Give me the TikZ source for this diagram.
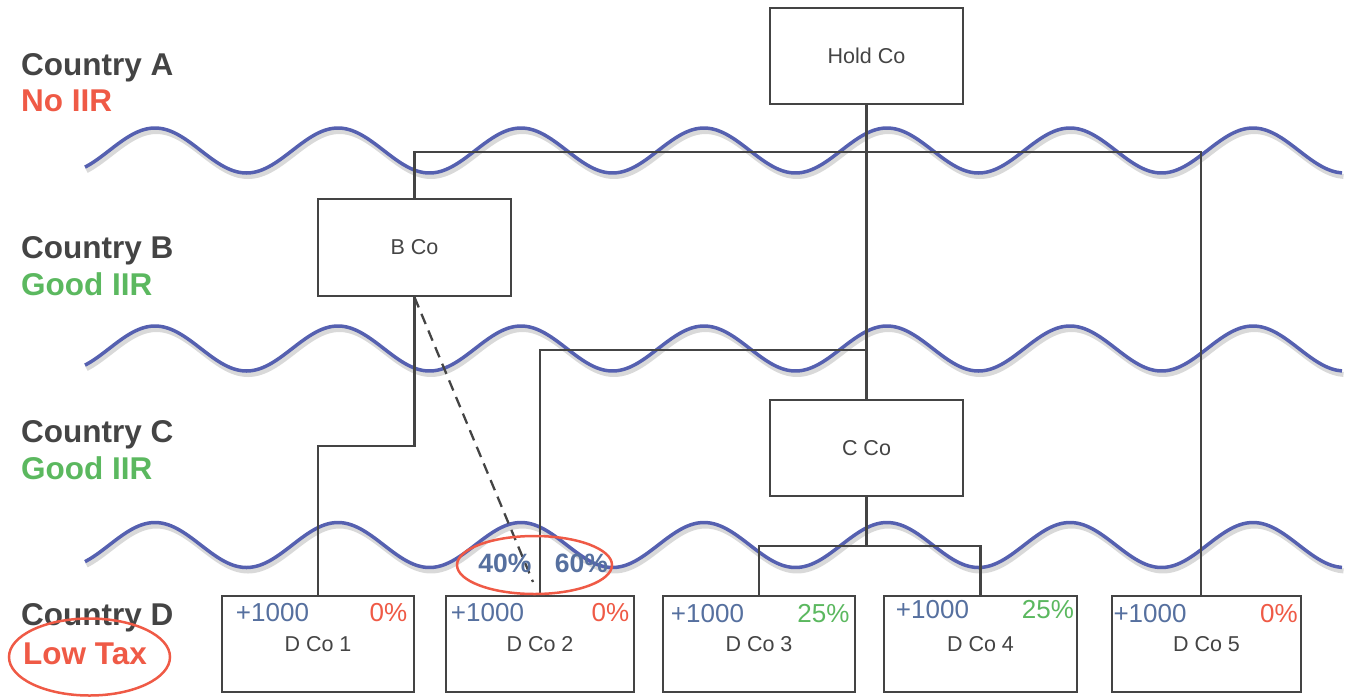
\documentclass[tikz,border=0pt]{standalone}
\usepackage{fontspec}
\setmainfont{Liberation Sans}
\usetikzlibrary{shapes.geometric}
\definecolor{txt}{HTML}{444444}
\definecolor{wavec}{HTML}{5560B0}
\definecolor{redc}{HTML}{EF5A46}
\definecolor{greenc}{HTML}{5BB85F}
\definecolor{bluec}{HTML}{56709F}
\begin{document}
\begin{tikzpicture}[x=1pt,y=-1pt,
  box/.style={draw=txt, line width=2.5pt, fill=white, inner sep=0pt, text=txt,
    font=\fontsize{21.5}{25}\selectfont},
  conn/.style={draw=txt, line width=2.3pt},
  wave/.style={draw=wavec, line width=3.5pt},
  waveshadow/.style={draw=black!15, line width=5pt},
  ctry/.style={anchor=base west, inner sep=0pt, text=txt, font=\fontsize{31.5}{36}\selectfont\bfseries},
  tag/.style={anchor=base west, inner sep=0pt, font=\fontsize{31.5}{36}\selectfont\bfseries},
  amt/.style={inner sep=0pt, text=bluec, font=\fontsize{26}{30}\selectfont},
  rate/.style={inner sep=0pt, font=\fontsize{26}{30}\selectfont},
  pct/.style={inner sep=0pt, text=bluec, font=\fontsize{26.5}{30}\selectfont\bfseries},
  ring/.style={ellipse, draw=redc, line width=2.5pt, inner sep=0pt}
]
\useasboundingbox (0,0) rectangle (1352,697);

% waves
\foreach \c in {150.5,348.5,545}{
  \draw[waveshadow] plot[domain=85:1342, samples=250, smooth] ({\x+1.5}, {\c+3.5-22.5*cos((\x-155)*1.96721)});
  \draw[wave] plot[domain=85:1342, samples=250, smooth] (\x, {\c-22.5*cos((\x-155)*1.96721)});
}

% country labels
\node[ctry] (ca) at (21,75) {Country A};
\node[tag, text=redc] (ta) at (21,111) {No IIR};
\node[ctry] (cb) at (21,258) {Country B};
\node[tag, text=greenc] (tb) at (21,295) {Good IIR};
\node[ctry] (cc) at (21,442) {Country C};
\node[tag, text=greenc] (tc) at (21,479) {Good IIR};
\node[ctry] (cd) at (21,625) {Country D};
\node[tag, text=redc] (td) at (23,664) {Low Tax};
\node[ring, minimum width=161pt, minimum height=77pt] (lowring) at (89.5,657) {};

% boxes
\node[box, minimum width=193pt, minimum height=96pt] (hold) at (866.5,56) {Hold Co};
\node[box, minimum width=193pt, minimum height=97pt] (bco) at (414.5,247.5) {B Co};
\node[box, minimum width=193pt, minimum height=96pt] (cco) at (866.5,448) {C Co};
\node[box, minimum width=192pt, minimum height=96pt] (d1) at (318,644) {\raisebox{-2pt}{D Co 1}};
\node[box, minimum width=188pt, minimum height=96pt] (d2) at (540,644) {\raisebox{-2pt}{D Co 2}};
\node[box, minimum width=192pt, minimum height=96pt] (d3) at (759,644) {\raisebox{-2pt}{D Co 3}};
\node[box, minimum width=193pt, minimum height=96pt] (d4) at (980.5,644) {\raisebox{-2pt}{D Co 4}};
\node[box, minimum width=189pt, minimum height=96pt] (d5) at (1206.5,644) {\raisebox{-2pt}{D Co 5}};

% junctions
\coordinate (ja) at (866.5,152);
\coordinate (jb) at (866.5,350);
\coordinate (jc) at (414.5,446);
\coordinate (jd) at (866.5,546);
\coordinate (d5top) at (1201,596);
\coordinate (dend) at (533,582);

% connectors
\draw[conn] (hold.south) -- (cco.north);
\draw[conn] (bco.north) |- (ja) -| (d5top);
\draw[conn] (jb) -| (d2.north);
\draw[conn] (bco.south) -- (jc) -| (d1.north);
\draw[conn] (cco.south) -- (jd);
\draw[conn] (d3.north) |- (jd) -| (d4.north);
\draw[conn, dashed, dash pattern=on 11pt off 7pt] (bco.south) -- (dend);

% split ring
\node[pct] (p40) at (505,563) {40\%};
\node[pct] (p60) at (581.5,563) {60\%};
\node[ring, minimum width=155pt, minimum height=58pt] (splitring) at (534.5,565) {};

% amounts and rates
\node[amt] (a1) at (272.5,613) {+1000};
\node[rate, text=redc] (r1) at (388.5,613) {0\%};
\node[amt] (a2) at (487.5,613) {+1000};
\node[rate, text=redc] (r2) at (610.5,613) {0\%};
\node[amt] (a3) at (707.5,614) {+1000};
\node[rate, text=greenc] (r3) at (823.5,614) {25\%};
\node[amt] (a4) at (932.5,610) {+1000};
\node[rate, text=greenc] (r4) at (1048,610) {25\%};
\node[amt] (a5) at (1150,614) {+1000};
\node[rate, text=redc] (r5) at (1279,614) {0\%};
\end{tikzpicture}
\end{document}
